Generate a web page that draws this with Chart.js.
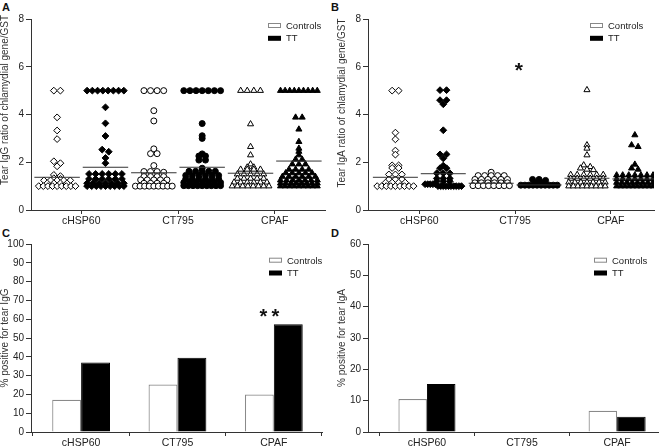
<!DOCTYPE html>
<html><head><meta charset="utf-8">
<script src="https://cdn.jsdelivr.net/npm/chart.js@4.4.1/dist/chart.umd.min.js"></script>
<style>
html,body{margin:0;padding:0;background:#fff;width:659px;height:447px;overflow:hidden;position:relative;}
canvas{position:absolute;}
.lbl{position:absolute;font:bold 11px "Liberation Sans",Arial,sans-serif;color:#111;line-height:12px;}
</style></head><body>
<div class="lbl" style="left:2px;top:1px">A</div>
<div class="lbl" style="left:331px;top:1px">B</div>
<div class="lbl" style="left:2px;top:227px">C</div>
<div class="lbl" style="left:331px;top:227px">D</div>
<canvas id="cA" style="left:0;top:0" width="330" height="228"></canvas>
<canvas id="cB" style="left:330px;top:0" width="329" height="228"></canvas>
<canvas id="cC" style="left:0;top:228px" width="330" height="219"></canvas>
<canvas id="cD" style="left:330px;top:228px" width="329" height="219"></canvas>
<script>
// ---------- data ----------
const categories = ['cHSP60', 'CT795', 'CPAF'];
const seriesNames = ['Controls', 'TT'];
const ratioTicks = [0, 2, 4, 6, 8];
const pctTicksIgG = [0, 10, 20, 30, 40, 50, 60, 70, 80, 90, 100];
const pctTicksIgA = [0, 10, 20, 30, 40, 50, 60];

// Panel A: tear IgG ratio
const iggControls_cHSP60 = [5, 5, 3.88, 3.33, 2.97, 2.04, 1.96, 1.83, 1.47, 1.42, 1.33, 1.30, 1.24, 1.24, 1.24, 1.24, 1.24, 1.12, 1.12, 1.12, 1.12, 1.0, 1.0, 1.0, 1.0, 1.0, 1.0, 1.0, 1.0, 1.0];
const iggTT_cHSP60 = [5, 5, 5, 5, 5, 5, 5, 5, 4.30, 3.63, 3.10, 2.53, 2.44, 2.18, 1.96, 1.51, 1.51, 1.51, 1.51, 1.51, 1.51, 1.30, 1.30, 1.30, 1.30, 1.30, 1.30, 1.12, 1.12, 1.12, 1.12, 1.12, 1.12, 1.12, 1.0, 1.0, 1.0, 1.0, 1.0, 1.0, 1.0, 1.0, 1.0];
const iggControls_CT795 = [5, 5, 5, 5, 4.16, 3.73, 2.56, 2.36, 2.36, 1.86, 1.61, 1.61, 1.61, 1.58, 1.40, 1.40, 1.40, 1.40, 1.26, 1.26, 1.26, 1.26, 1.26, 1.12, 1.12, 1.12, 1.12, 1.0, 1.0, 1.0, 1.0, 1.0, 1.0, 1.0, 1.0, 1.0];
const iggTT_CT795 = [5, 5, 5, 5, 5, 5, 5, 3.62, 3.11, 3.0, 2.35, 2.26, 2.26, 2.09, 2.09, 1.75, 1.62, 1.62, 1.62, 1.62, 1.62, 1.45, 1.45, 1.45, 1.45, 1.45, 1.45, 1.30, 1.30, 1.30, 1.30, 1.30, 1.30, 1.15, 1.15, 1.15, 1.15, 1.15, 1.15, 1.15, 1.02, 1.02, 1.02, 1.02, 1.02, 1.02, 1.02, 1.02, 1.02];
const iggControls_CPAF = [5, 5, 5, 5, 3.60, 2.65, 2.30, 1.92, 1.79, 1.79, 1.70, 1.70, 1.70, 1.70, 1.50, 1.50, 1.50, 1.50, 1.50, 1.32, 1.32, 1.32, 1.32, 1.32, 1.16, 1.16, 1.16, 1.16, 1.16, 1.16, 1.0, 1.0, 1.0, 1.0, 1.0, 1.0, 1.0, 1.0];
const iggTT_CPAF = [5, 5, 5, 5, 5, 5, 5, 5, 5, 3.88, 3.88, 3.38, 2.86, 2.58, 2.45, 2.30, 2.12, 2.12, 1.92, 1.92, 1.92, 1.70, 1.70, 1.70, 1.70, 1.55, 1.55, 1.55, 1.55, 1.55, 1.40, 1.40, 1.40, 1.40, 1.40, 1.40, 1.25, 1.25, 1.25, 1.25, 1.25, 1.25, 1.25, 1.12, 1.12, 1.12, 1.12, 1.12, 1.12, 1.12, 1.12, 1.0, 1.0, 1.0, 1.0, 1.0, 1.0, 1.0, 1.0, 1.0];
const iggMeanControls = [1.37, 1.56, 1.54];
const iggMeanTT = [1.79, 1.79, 2.05];

// Panel B: tear IgA ratio
const igaControls_cHSP60 = [5, 5, 3.24, 2.96, 2.49, 2.32, 1.87, 1.87, 1.76, 1.76, 1.49, 1.49, 1.49, 1.28, 1.28, 1.28, 1.15, 1.15, 1.15, 1.15, 1.0, 1.0, 1.0, 1.0, 1.0, 1.0, 1.0, 1.0, 1.0];
const igaTT_cHSP60 = [5.02, 5.02, 4.60, 4.60, 4.43, 3.34, 2.33, 2.33, 2.16, 1.86, 1.75, 1.75, 1.54, 1.54, 1.54, 1.32, 1.32, 1.32, 1.20, 1.20, 1.20, 1.08, 1.08, 1.08, 1.08, 1.08, 1.0, 1.0, 1.0, 1.0, 1.0, 1.0, 1.0, 1.0, 1.0, 1.0];
const igaControls_CT795 = [1.58, 1.44, 1.44, 1.44, 1.44, 1.44, 1.28, 1.28, 1.28, 1.28, 1.28, 1.28, 1.14, 1.14, 1.14, 1.14, 1.14, 1.14, 1.02, 1.02, 1.02, 1.02, 1.02, 1.02, 1.02, 1.02];
const igaTT_CT795 = [1.28, 1.28, 1.24, 1.14, 1.14, 1.04, 1.04, 1.04, 1.04, 1.04, 1.04, 1.04, 1.04, 1.04, 1.04];
const igaControls_CPAF = [5.03, 2.72, 2.58, 2.30, 1.88, 1.81, 1.75, 1.70, 1.68, 1.48, 1.48, 1.48, 1.48, 1.48, 1.48, 1.32, 1.32, 1.32, 1.32, 1.32, 1.32, 1.16, 1.16, 1.16, 1.16, 1.16, 1.16, 1.16, 1.0, 1.0, 1.0, 1.0, 1.0, 1.0, 1.0, 1.0, 1.0];
const igaTT_CPAF = [3.14, 2.72, 2.65, 1.91, 1.75, 1.70, 1.46, 1.46, 1.46, 1.46, 1.46, 1.46, 1.46, 1.30, 1.30, 1.30, 1.30, 1.30, 1.30, 1.30, 1.15, 1.15, 1.15, 1.15, 1.15, 1.15, 1.15, 1.15, 1.0, 1.0, 1.0, 1.0, 1.0, 1.0, 1.0, 1.0, 1.0, 1.0];
const igaMeanControls = [1.37, 1.12, 1.33];
const igaMeanTT = [1.52, 1.05, 1.30];

// Panel C / D: % positive
const pctIgGControls = [17.1, 25.3, 19.9];
const pctIgGTT = [37.0, 39.5, 57.3];
const pctIgAControls = [10.5, 0, 6.8];
const pctIgATT = [15.3, 0, 4.9];

// ---------- helpers ----------
const FONT = '"Liberation Sans", Arial, Helvetica, sans-serif';
Chart.defaults.font.family = FONT;
Chart.defaults.color = '#222';
Chart.defaults.animation = false;
Chart.defaults.events = [];
Chart.defaults.plugins.legend.display = false;
Chart.defaults.plugins.tooltip.enabled = false;

const GROUP_OFFSET = 0.25, HALF_SPREAD = 0.19, MARK_STEP = 0.068, MEAN_HALF = 0.235;

// arrange points of one group side by side when their values coincide
function swarm(values, center) {
  const sorted = [...values].sort((a, b) => b - a);
  const rows = [];
  sorted.forEach(v => {
    const last = rows[rows.length - 1];
    if (last && last[0] - v < 0.09) last.push(v); else rows.push([v]);
  });
  const pts = [];
  rows.forEach(r => {
    const n = r.length;
    const step = n > 1 ? Math.min(MARK_STEP, 2 * HALF_SPREAD / (n - 1)) : 0;
    r.forEach((v, i) => pts.push({ x: center + (i - (n - 1) / 2) * step, y: v }));
  });
  return pts;
}

const decor = {
  id: 'decor',
  afterDraw(chart, args, o) {
    const ctx = chart.ctx, ca = chart.chartArea;
    // axis title
    ctx.save();
    ctx.fillStyle = '#333';
    ctx.font = '10px ' + FONT;
    ctx.translate(o.titleX, o.titleY);
    ctx.rotate(-Math.PI / 2);
    ctx.textAlign = 'center';
    ctx.textBaseline = 'middle';
    ctx.fillText(o.title, 0, 0);
    ctx.restore();
    // legend
    ctx.save();
    const lx = ca.right - o.legendDX;
    seriesNames.forEach((name, i) => {
      const y = o.legendY + i * 12.3;
      if (i === 0) {
        ctx.fillStyle = '#fff'; ctx.strokeStyle = '#888'; ctx.lineWidth = 1;
        ctx.fillRect(lx, y - 2, 13, 4); ctx.strokeRect(lx + 0.5, y - 2.5, 12, 4);
      } else {
        ctx.fillStyle = '#000'; ctx.fillRect(lx, y - 2.5, 13, 5);
      }
      ctx.fillStyle = '#222';
      ctx.font = '9.5px ' + FONT;
      ctx.textAlign = 'left';
      ctx.textBaseline = 'middle';
      ctx.fillText(name, lx + 18, y + 0.5);
    });
    ctx.restore();
    // significance marks
    if (o.stars) {
      ctx.save();
      const s = o.stars;
      const px = chart.scales.x.getPixelForValue(s.x);
      const py = chart.scales.y.getPixelForValue(s.y);
      ctx.fillStyle = '#111';
      ctx.font = 'bold ' + s.size + 'px ' + FONT;
      ctx.textAlign = 'center';
      ctx.textBaseline = 'alphabetic';
      for (let i = 0; i < s.count; i++) {
        const dx = (i - (s.count - 1) / 2) * s.gap;
        ctx.fillText('*', px + dx, py + 0.57 * s.size);
      }
      ctx.restore();
    }
  }
};

function xAxis(min, max, h) {
  return {
    type: 'linear', min, max, offset: false,
    afterBuildTicks: s => { s.ticks = categories.map((c, i) => ({ value: i })); },
    afterFit: s => { s.height = h; },
    ticks: { autoSkip: false, maxRotation: 0, minRotation: 0, padding: 1, color: '#222',
      font: { size: 10.5 }, callback: v => categories[v] ?? '' },
    grid: { drawOnChartArea: false, drawTicks: true, tickLength: 4, color: '#333', lineWidth: 1 },
    border: { display: true, color: '#333', width: 1 }
  };
}
function yAxis(max, tickVals, w) {
  return {
    min: 0, max,
    afterBuildTicks: s => { s.ticks = tickVals.map(v => ({ value: v })); },
    afterFit: s => { s.width = w; },
    ticks: { padding: 2, color: '#222', font: { size: 10 } },
    grid: { drawOnChartArea: false, drawTicks: true, tickLength: 5, color: '#333', lineWidth: 1 },
    border: { display: true, color: '#333', width: 1 }
  };
}

function scatterPanel(id, groups, meansC, meansT, p) {
  const styles = ['rectRot', 'circle', 'triangle'];
  const radii = [3.4, 3.0, 3.5];
  const meanSets = [];
  const pointSets = [];
  categories.forEach((c, i) => {
    [[meansC[i], i - GROUP_OFFSET], [meansT[i], i + GROUP_OFFSET]].forEach(([m, cx]) => {
      meanSets.push({ data: [{ x: cx - MEAN_HALF, y: m }, { x: cx + MEAN_HALF, y: m }],
        showLine: true, borderColor: '#333', borderWidth: 1, pointRadius: 0 });
    });
    pointSets.push({ data: swarm(groups[i][0], i - GROUP_OFFSET), pointStyle: styles[i], pointRadius: radii[i],
      backgroundColor: '#fff', borderColor: '#000', borderWidth: 1 });
    pointSets.push({ data: swarm(groups[i][1], i + GROUP_OFFSET), pointStyle: styles[i], pointRadius: radii[i],
      backgroundColor: '#000', borderColor: '#000', borderWidth: 1 });
  });
  new Chart(document.getElementById(id), {
    type: 'scatter',
    data: { datasets: [...meanSets, ...pointSets] },
    options: {
      responsive: false,
      layout: { padding: p.pad },
      scales: { x: xAxis(p.xmin, p.xmax, p.xh), y: yAxis(8, ratioTicks, p.yw) },
      plugins: { decor: p.decor }
    },
    plugins: [decor]
  });
}

function barPanel(id, ctrl, tt, ymax, ticks, p) {
  new Chart(document.getElementById(id), {
    type: 'bar',
    data: { datasets: [
      { label: seriesNames[0], data: categories.map((c, i) => ({ x: i, y: ctrl[i] })),
        backgroundColor: '#fff', borderColor: '#8a8a8a', borderWidth: 1.2 },
      { label: seriesNames[1], data: categories.map((c, i) => ({ x: i, y: tt[i] })),
        backgroundColor: '#000', borderColor: '#000', borderWidth: 1 }
    ] },
    options: {
      responsive: false,
      layout: { padding: p.pad },
      datasets: { bar: { categoryPercentage: 0.6, barPercentage: 1.0 } },
      scales: { x: xAxis(p.xmin, p.xmax, p.xh), y: yAxis(ymax, ticks, p.yw) },
      plugins: { decor: p.decor }
    },
    plugins: [decor]
  });
}

scatterPanel('cA',
  [[iggControls_cHSP60, iggTT_cHSP60], [iggControls_CT795, iggTT_CT795], [iggControls_CPAF, iggTT_CPAF]],
  iggMeanControls, iggMeanTT,
  { pad: { top: 19, right: 3, left: 0, bottom: 0 }, xmin: -0.52, xmax: 2.52, xh: 18, yw: 31,
    decor: { title: 'Tear IgG ratio of chlamydial gene/GST', titleX: 5.5, titleY: 100, legendDX: 57, legendY: 26 } });

scatterPanel('cB',
  [[igaControls_cHSP60, igaTT_cHSP60], [igaControls_CT795, igaTT_CT795], [igaControls_CPAF, igaTT_CPAF]],
  igaMeanControls, igaMeanTT,
  { pad: { top: 19, right: 1, left: 0, bottom: 0 }, xmin: -0.536, xmax: 2.45, xh: 18, yw: 38,
    decor: { title: 'Tear IgA ratio of chlamydial gene/GST', titleX: 12, titleY: 103, legendDX: 64, legendY: 26,
      stars: { x: 1.04, y: 6.07, size: 21, count: 1, gap: 0 } } });

barPanel('cC', pctIgGControls, pctIgGTT, 100, pctTicksIgG,
  { pad: { top: 16, right: 8, left: 0, bottom: 0 }, xmin: -0.52, xmax: 2.5, xh: 15, yw: 31,
    decor: { title: '% positive for tear IgG', titleX: 5, titleY: 110, legendDX: 53, legendY: 32.7,
      stars: { x: 1.955, y: 63.9, size: 20, count: 2, gap: 12 } } });

barPanel('cD', pctIgAControls, pctIgATT, 60, pctTicksIgA,
  { pad: { top: 16, right: 1, left: 0, bottom: 0 }, xmin: -0.62, xmax: 2.43, xh: 15, yw: 38,
    decor: { title: '% positive for tear IgA', titleX: 12, titleY: 110, legendDX: 64, legendY: 32.7 } });
</script>
</body></html>
